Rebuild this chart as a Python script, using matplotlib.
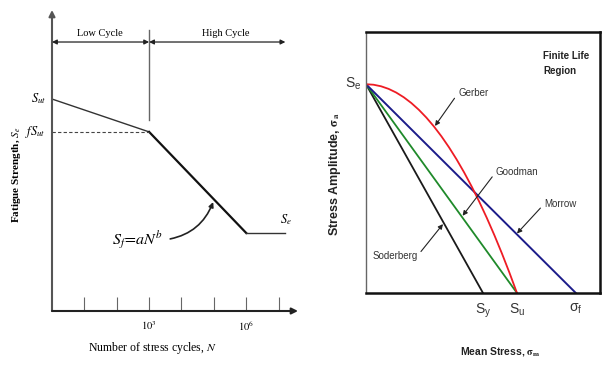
import numpy as np
import matplotlib
matplotlib.use("Agg")
import matplotlib.pyplot as plt

plt.rcParams['mathtext.fontset'] = 'stix'

# ---- Left chart data (S-N curve) ----
sn_cycles = [1, 1e3, 1e6, 1.6e7]
sn_strength = [1.0, 0.845, 0.368, 0.368]
sn_tick_pos = [1e1, 1e2, 1e3, 1e4, 1e5, 1e6, 1e7]
sn_tick_labels = ['', '', '$10^3$', '', '', '$10^6$', '']
S_ut = 1.0
fS_ut = 0.845
S_e_left = 0.368

# ---- Right chart data (mean stress diagram) ----
S_e = 1.0
S_y = 0.775
S_u = 1.0
sigma_f = 1.39
soderberg_x = [0, S_y]
soderberg_y = [S_e, 0]
goodman_x = [0, S_u]
goodman_y = [S_e, 0]
morrow_x = [0, sigma_f]
morrow_y = [S_e, 0]
gerber_x = [0, .05, .1, .15, .2, .25, .3, .35, .4, .45, .5, .55, .6, .65, .7,
            .75, .8, .85, .9, .95, 1.0]
gerber_y = [1, .9975, .99, .9775, .96, .9375, .91, .8775, .84, .7975, .75,
            .6975, .64, .5775, .51, .4375, .36, .2775, .19, .0975, 0]
right_ticks = [S_y, S_u, sigma_f]
right_tick_labels = [r'$\mathregular{S_y}$', r'$\mathregular{S_u}$', r'$\mathregular{\sigma_f}$']

W, H = 603, 365
fig = plt.figure(figsize=(W / 100, H / 100), dpi=100)

serif = 'Liberation Serif'
sans = ['Liberation Sans Narrow', 'Liberation Sans', 'DejaVu Sans']

# ================= LEFT =================
axL = fig.add_axes([52 / W, (H - 311) / H, (298 - 52) / W, (311 - 10) / H])
axL.set_xscale('log')
axL.set_xlim(1, 10 ** 7.6)
axL.set_ylim(0, 1.42)
for s in axL.spines.values():
    s.set_visible(False)
axisc = '#555555'
axL.annotate('', xy=(0, 1.0), xytext=(0, 0), xycoords='axes fraction',
             arrowprops=dict(arrowstyle='-|>', color=axisc, lw=1.5,
                             mutation_scale=9, shrinkA=0, shrinkB=0))
axL.annotate('', xy=(1.0, 0), xytext=(0, 0), xycoords='axes fraction',
             arrowprops=dict(arrowstyle='-|>', color='#222222', lw=1.5,
                             mutation_scale=9, shrinkA=0, shrinkB=0))
axL.set_xticks(sn_tick_pos)
axL.set_xticklabels(sn_tick_labels, fontsize=7.5)
axL.xaxis.set_minor_locator(matplotlib.ticker.NullLocator())
axL.tick_params(axis='x', direction='in', length=10, width=0.8, color='#666666', pad=6)
axL.set_yticks([])

axL.plot(sn_cycles[:2], sn_strength[:2], color='#333333', lw=1.0)
axL.plot(sn_cycles[1:3], sn_strength[1:3], color='#111111', lw=1.6)
axL.plot(sn_cycles[2:], sn_strength[2:], color='#333333', lw=1.0)
axL.plot([1, 1e3], [fS_ut, fS_ut], color='#444444', lw=0.8, ls=(0, (3, 2)))
axL.plot([1e3, 1e3], [0.90, 1.325], color='#666666', lw=1.0)

yarr = 1.269
axL.annotate('', xy=(1, yarr), xytext=(1e3, yarr),
             arrowprops=dict(arrowstyle='<|-|>', color='#222222', lw=0.9,
                             mutation_scale=7, shrinkA=0, shrinkB=0))
axL.annotate('', xy=(1e3, yarr), xytext=(10 ** 7.21, yarr),
             arrowprops=dict(arrowstyle='<|-|>', color='#222222', lw=0.9,
                             mutation_scale=7, shrinkA=0, shrinkB=0))
axL.text(10 ** 1.49, 1.311, 'Low Cycle', family=serif, fontsize=7.5, ha='center', va='center')
axL.text(10 ** 5.36, 1.311, 'High Cycle', family=serif, fontsize=7.5, ha='center', va='center')

axL.text(-0.025, S_ut, r'$S_{ut}$', transform=axL.get_yaxis_transform(),
         ha='right', va='center', fontsize=9)
axL.text(-0.025, fS_ut, r'$fS_{ut}$', transform=axL.get_yaxis_transform(),
         ha='right', va='center', fontsize=9)
axL.text(10 ** 7.22, S_e_left + 0.03, r'$S_e$', ha='center', va='bottom', fontsize=9)

axL.annotate(r'$S_f\!=\!aN^b$', xy=(10 ** 4.98, 0.514), xytext=(10 ** 1.86, 0.335),
             ha='left', va='center', fontsize=11.5,
             arrowprops=dict(arrowstyle='-|>', color='#222222', lw=1.2,
                             mutation_scale=7, shrinkA=3, shrinkB=0,
                             relpos=(1.0, 0.5),
                             connectionstyle='arc3,rad=0.3'))

fig.text(17 / W, 1 - 175 / H, r'Fatigue Strength, $\mathit{S_e}$', family=serif,
         fontweight='bold', fontsize=8, rotation=90, ha='center', va='center')
fig.text(152 / W, 1 - 348 / H, r'Number of stress cycles, $N$', family=serif,
         fontsize=8.5, ha='center', va='center')

# ================= RIGHT =================
axR = fig.add_axes([366 / W, (H - 293) / H, (600 - 366) / W, (293 - 32) / H])
axR.set_xlim(0, 1.55)
axR.set_ylim(0, 1.25)
for k in ['top', 'right', 'bottom']:
    axR.spines[k].set_linewidth(1.8)
    axR.spines[k].set_color('#111111')
axR.spines['left'].set_linewidth(1.0)
axR.spines['left'].set_color('#666666')
axR.set_yticks([])
axR.set_xticks(right_ticks)
axR.set_xticklabels(right_tick_labels, family=sans, fontsize=10, color='#333333')
axR.tick_params(axis='x', length=0, pad=6)

axR.plot(soderberg_x, soderberg_y, color='#1a1a1a', lw=1.3)
axR.plot(goodman_x, goodman_y, color='#1f8a2a', lw=1.3)
axR.plot(morrow_x, morrow_y, color='#1c1c8a', lw=1.4)
axR.plot(gerber_x, gerber_y, color='#ee1c24', lw=1.3)

axR.text(-0.03, S_e, r'$\mathregular{S_e}$', family=sans, fontsize=10, ha='right',
         va='center', color='#333333')
axR.text(1.175, 1.10, 'Finite Life\nRegion', family=sans, fontsize=7, ha='left',
         va='center', fontweight='bold', color='#222222', linespacing=1.6)

ap = dict(arrowstyle='-|>', color='#222222', lw=0.8, mutation_scale=7,
          shrinkA=1, shrinkB=0)
fs_lab = 7
axR.annotate('Gerber', xy=(0.457, 0.80), xytext=(0.61, 0.957), ha='left', va='center',
             family=sans, fontsize=fs_lab, color='#333333',
             arrowprops=dict(ap, relpos=(0.0, 0.5)))
axR.annotate('Goodman', xy=(0.64, 0.37), xytext=(0.86, 0.579), ha='left', va='center',
             family=sans, fontsize=fs_lab, color='#333333',
             arrowprops=dict(ap, relpos=(0.0, 0.5)))
axR.annotate('Morrow', xy=(1.0, 0.285), xytext=(1.18, 0.426), ha='left', va='center',
             family=sans, fontsize=fs_lab, color='#333333',
             arrowprops=dict(ap, relpos=(0.0, 0.5)))
axR.annotate('Soderberg', xy=(0.51, 0.33), xytext=(0.34, 0.177), ha='right', va='center',
             family=sans, fontsize=fs_lab, color='#333333',
             arrowprops=dict(ap, relpos=(1.0, 0.5)))

fig.text(335 / W, 1 - 174 / H, r'Stress Amplitude, $\mathbf{\sigma_a}$',
         family=['Liberation Sans', 'DejaVu Sans'], fontweight='bold', fontsize=9,
         rotation=90, ha='center', va='center', color='#222222')
fig.text(500 / W, 1 - 352 / H, r'Mean Stress, $\mathbf{\sigma_m}$', family=sans,
         fontweight='bold', fontsize=7.5, ha='center', va='center', color='#222222')

fig.savefig('out.png', dpi=100)
